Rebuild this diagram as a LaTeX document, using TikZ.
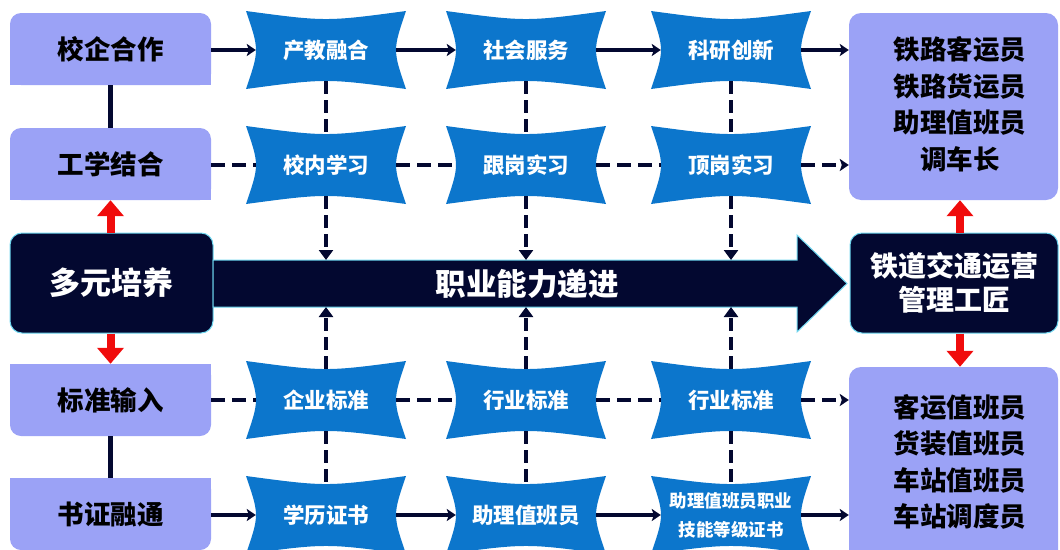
\documentclass[tikz,border=0pt]{standalone}
\usepackage{fontspec}
\newfontfamily\cjk{Noto Sans CJK SC}
\usetikzlibrary{arrows.meta,backgrounds,calc}
\definecolor{lav}{RGB}{155,162,246}
\definecolor{navy}{RGB}{3,8,48}
\definecolor{sblue}{RGB}{12,118,204}
\definecolor{glow}{RGB}{110,215,240}
\definecolor{rred}{RGB}{240,12,12}
\newcommand\cvfill[1]{%
  \fill[sblue] ($(#1)+(-80,-39)$) .. controls ($(#1)+(0,-28.3)$) .. ($(#1)+(80,-39)$)
    .. controls ($(#1)+(66.7,0)$) .. ($(#1)+(80,39)$)
    .. controls ($(#1)+(0,28.3)$) .. ($(#1)+(-80,39)$)
    .. controls ($(#1)+(-66.7,0)$) .. ($(#1)+(-80,-39)$) -- cycle;}
\begin{document}
\begin{tikzpicture}[x=1pt,y=-1pt,
  lbox/.style={fill=lav, rounded corners=11pt, minimum width=201pt, minimum height=72pt, inner sep=0pt,
     text=black, font=\cjk\bfseries\fontsize{26.5}{30}\selectfont},
  cv/.style={minimum width=140pt, minimum height=62pt, inner sep=0pt, text=white,
     font=\cjk\bfseries\fontsize{21.5}{25}\selectfont, align=center},
  rbox/.style={fill=lav, rounded corners=12pt, minimum width=209pt, inner sep=0pt},
  rtext/.style={text=black, align=center, font=\cjk\bfseries\fontsize{26.5}{36.5}\selectfont, inner sep=0pt},
  dbox/.style={fill=navy, draw=glow, line width=1pt, rounded corners=12pt, minimum height=100pt,
     inner sep=0pt, text=white, align=center},
  solidar/.style={navy, line width=4pt, -{Stealth[length=9pt,width=12pt,inset=2pt]}},
  dashln/.style={navy, line width=4pt, dash pattern=on 14pt off 7pt},
  dashar/.style={dashln, -{Stealth[length=9pt,width=12pt,inset=2pt]}},
  vdash/.style={navy, line width=4pt, dash pattern=on 13pt off 6pt},
  vdashar/.style={navy, line width=4pt, dash pattern=on 13pt off 6pt, -{Triangle[length=10pt,width=14pt]}},
  redar/.style={rred, line width=8pt, -{Triangle[length=16pt,width=26pt]}},
  link/.style={navy, line width=5pt}
]
\useasboundingbox (0,0) rectangle (1060,549);
\clip (0,0) rectangle (1060,549);

% left column
\node[lbox] (xq) at (110.5,49) {校企合作};
\node[lbox] (gx) at (110.5,164) {工学结合};
\node[lbox] (bz) at (110.5,400) {标准输入};
\node[lbox] (sz) at (110.5,514) {书证融通};
\begin{scope}[on background layer]
  \fill[lav] (xq.west) rectangle (xq.south east);
  \fill[lav] (gx.west) rectangle (gx.south east);
  \fill[lav] (bz.north west) rectangle (bz.east);
  \fill[lav] (sz.north west) rectangle (sz.east);
\end{scope}

% dark boxes
\node[dbox, minimum width=203pt, font=\cjk\bfseries\fontsize{31}{36}\selectfont] (dy) at (111.5,283) {多元培养};
\node[dbox, minimum width=208pt, font=\cjk\bfseries\fontsize{28}{34}\selectfont] (goal) at (954,283) {铁道交通运营\\管理工匠};

% big arrow
\fill[navy, draw=glow, line width=1pt] (213,260) -- (797,260) -- (797,235) -- (847,283.5) -- (797,332) -- (797,307) -- (213,307) -- cycle;
\coordinate (bt1) at (326,260); \coordinate (bt2) at (526,260); \coordinate (bt3) at (731,260);
\coordinate (bb1) at (326,307); \coordinate (bb2) at (526,307); \coordinate (bb3) at (731,307);
\node[text=white, font=\cjk\bfseries\fontsize{30.5}{35}\selectfont] (prog) at (527,283.5) {职业能力递进};

% right boxes
\node[rbox, minimum height=187pt] (rtop) at (953.5,106.5) {};
\node[rtext] (rtopt) at (960,104) {铁路客运员\\铁路货运员\\助理值班员\\调车长};
\node[rbox, minimum height=196pt] (rbot) at (953.5,465) {};
\node[rtext] (rbott) at (960,462) {客运值班员\\货装值班员\\车站值班员\\车站调度员};

% concave nodes
\node[cv] (a1) at (326,50) {产教融合};
\node[cv] (a2) at (526,50) {社会服务};
\node[cv] (a3) at (731,50) {科研创新};
\node[cv] (b1) at (326,165) {校内学习};
\node[cv] (b2) at (526,165) {跟岗实习};
\node[cv] (b3) at (731,165) {顶岗实习};
\node[cv] (c1) at (326,400) {企业标准};
\node[cv] (c2) at (526,400) {行业标准};
\node[cv] (c3) at (731,400) {行业标准};
\node[cv] (d1) at (326,515) {学历证书};
\node[cv] (d2) at (526,515) {助理值班员};
\node[cv, font=\cjk\bfseries\fontsize{17.5}{29}\selectfont] (d3) at (731,515) {助理值班员职业\\技能等级证书};
\begin{scope}[on background layer]
  \cvfill{a1}\cvfill{a2}\cvfill{a3}
  \cvfill{b1}\cvfill{b2}\cvfill{b3}
  \cvfill{c1}\cvfill{c2}\cvfill{c3}
  \cvfill{d1}\cvfill{d2}\cvfill{d3}
\end{scope}

% left links
\draw[link] (xq.south) -- (gx.north);
\draw[link] (bz.south) -- (sz.north);
\draw[redar] (dy.north -| gx.south) -- (gx.south);
\draw[redar] (dy.south -| bz.north) -- (bz.north);
\draw[redar] (goal.north -| 960,0) -- (rtop.south -| 960,0);
\draw[redar] (goal.south -| 960,0) -- (rbot.north -| 960,0);

% row 1
\draw[solidar] (xq.east |- a1) -- (a1.west);
\draw[solidar] (a1.east) -- (a2.west);
\draw[solidar] (a2.east) -- (a3.west);
\draw[solidar] (a3.east) -- (a3.east -| rtop.west);
% row 2
\draw[dashln] (gx.east |- b1) -- (b1.west);
\draw[dashln] (b1.east) -- (b2.west);
\draw[dashln] (b2.east) -- (b3.west);
\draw[dashar] (b3.east) -- (b3.east -| rtop.west);
% row 3
\draw[dashln] (bz.east |- c1) -- (c1.west);
\draw[dashln] (c1.east) -- (c2.west);
\draw[dashln] (c2.east) -- (c3.west);
\draw[dashar] (c3.east) -- (c3.east -| rbot.west);
% row 4
\draw[solidar] (sz.east |- d1) -- (d1.west);
\draw[solidar] (d1.east) -- (d2.west);
\draw[solidar] (d2.east) -- (d3.west);
\draw[solidar] (d3.east) -- (d3.east -| rbot.west);

% verticals
\foreach \i in {1,2,3}{
  \draw[vdash] (a\i.south) -- (b\i.north);
  \draw[vdashar] (b\i.south) -- (bt\i);
  \draw[vdashar] (c\i.north) -- (bb\i);
  \draw[vdash] (c\i.south) -- (d\i.north);
}
\end{tikzpicture}
\end{document}
